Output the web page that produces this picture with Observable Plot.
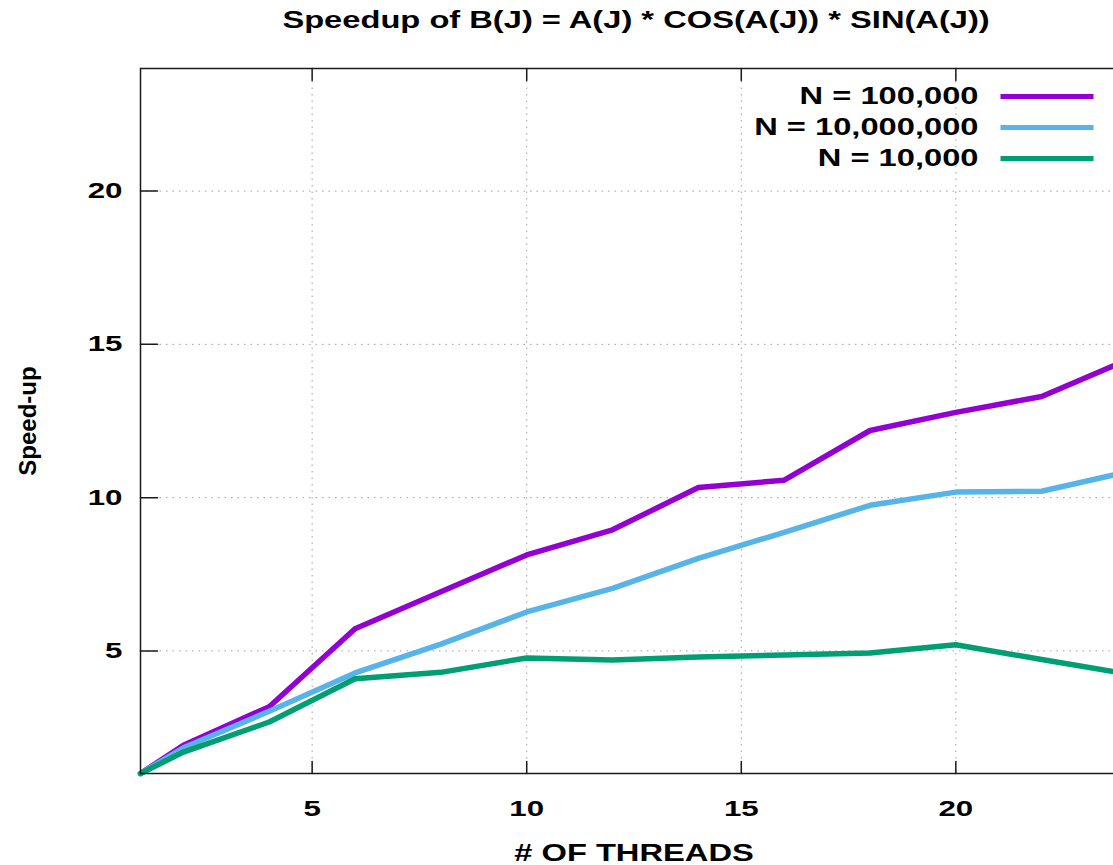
<!DOCTYPE html>
<html><head><meta charset="utf-8">
<script src="https://cdn.jsdelivr.net/npm/d3@7"></script>
<script src="https://cdn.jsdelivr.net/npm/@observablehq/plot@0.6"></script>
<style>
html,body{margin:0;padding:0;background:#fff;}
#wrap{position:relative;width:1113px;height:865px;overflow:hidden;background:#fff;}
#title{position:absolute;left:0;top:9px;width:1272px;text-align:center;font:bold 23px "Liberation Sans",Arial,sans-serif;line-height:23px;color:#000;white-space:nowrap;}
#title span{display:inline-block;transform:scaleX(1.42);transform-origin:50% 50%;}
#chart{position:absolute;left:0;top:48px;}
</style></head><body>
<div id="wrap"><div id="title"><span>Speedup of B(J) = A(J) * COS(A(J)) * SIN(A(J))</span></div><div id="chart"></div></div>
<script>
const threads = [1, 2, 4, 6, 8, 10, 12, 14, 16, 18, 20, 22, 24];
const speedup100k = [1, 1.92, 3.18, 5.72, 6.93, 8.13, 8.95, 10.33, 10.57, 12.19, 12.78, 13.3, 14.5];
const speedup10m = [1, 1.84, 3.03, 4.28, 5.22, 6.27, 7.04, 8.02, 8.87, 9.75, 10.18, 10.21, 10.84];
const speedup10k = [1, 1.7, 2.68, 4.09, 4.3, 4.77, 4.7, 4.8, 4.87, 4.93, 5.2, 4.72, 4.25];
const seriesLabels = ["N = 100,000", "N = 10,000,000", "N = 10,000"];
const seriesColors = ["#9400d3", "#56b4e9", "#009e73"];
const xTicks = [5, 10, 15, 20];
const yTicks = [5, 10, 15, 20];
const xDomain = [1, 24];
const yDomain = [1, 24];

const seriesValues = [speedup100k, speedup10m, speedup10k];
const rows = seriesValues.flatMap((vals, i) =>
  threads.map((t, j) => ({threads: t, speedup: vals[j], series: seriesLabels[i]})));

const tickShape = {draw(context, l) { context.moveTo(0, 0); context.lineTo(0, -l); }};
const STRETCH = 1.42;
const ink = "#1a1a1a";
const gridStyle = {stroke: "#a0a0a0", strokeOpacity: 1, strokeWidth: 1, strokeDasharray: "1.5,5"};

const legendMarks = seriesLabels.flatMap((label, i) => [
  Plot.text([label], {frameAnchor: "top-right", text: d => d, dx: -149, dy: 28 + 31 * i,
    textAnchor: "end", lineAnchor: "middle", fontSize: 23}),
  Plot.vector([label], {frameAnchor: "top-right", dx: -127, dy: 28 + 31 * i, length: 93,
    rotate: 90, anchor: "start", shape: tickShape, stroke: seriesColors[i], strokeWidth: 5,
    strokeLinecap: "butt"})
]);

const plot = Plot.plot({
  width: 1127, height: 817,
  marginLeft: 140, marginRight: 0, marginTop: 20, marginBottom: 92,
  style: {fontFamily: '"Liberation Sans", Arial, sans-serif', fontSize: "22px", fontWeight: "bold",
    color: "#000", background: "#fff", maxWidth: "none"},
  x: {domain: xDomain},
  y: {domain: yDomain},
  color: {domain: seriesLabels, range: seriesColors},
  marks: [
    Plot.gridX(xTicks, gridStyle),
    Plot.gridY(yTicks, gridStyle),
    Plot.line(rows, {x: "threads", y: "speedup", stroke: "series", z: "series", strokeWidth: 5.5}),
    Plot.frame({stroke: ink, strokeWidth: 1.5}),
    Plot.vector(xTicks, {x: d => d, y: yDomain[0], length: 12, rotate: 0, anchor: "start", shape: tickShape, stroke: ink, strokeWidth: 1.5}),
    Plot.vector(xTicks, {x: d => d, y: yDomain[1], length: 12, rotate: 180, anchor: "start", shape: tickShape, stroke: ink, strokeWidth: 1.5}),
    Plot.vector(yTicks, {x: xDomain[0], y: d => d, length: 17, rotate: 90, anchor: "start", shape: tickShape, stroke: ink, strokeWidth: 1.5}),
    Plot.axisX({ticks: xTicks, tickSize: 0, tickPadding: 27, label: null}),
    Plot.axisY({ticks: yTicks, tickSize: 0, tickPadding: 18, label: null}),
    Plot.text(["# OF THREADS"], {frameAnchor: "bottom", text: d => d, dy: 80, lineAnchor: "middle", textAnchor: "middle", fontSize: 23}),
    Plot.text(["Speed-up"], {frameAnchor: "left", text: d => d, dx: -112, rotate: -90, textAnchor: "middle", lineAnchor: "middle", fontSize: 24}),
    ...legendMarks
  ]
});

document.getElementById("chart").append(plot);
for (const t of plot.querySelectorAll("text")) {
  if (t.textContent === "Speed-up") continue;
  const L = t.getComputedTextLength();
  if (L > 0) {
    t.setAttribute("textLength", (L * STRETCH).toFixed(1));
    t.setAttribute("lengthAdjust", "spacingAndGlyphs");
  }
}
</script>
</body></html>
